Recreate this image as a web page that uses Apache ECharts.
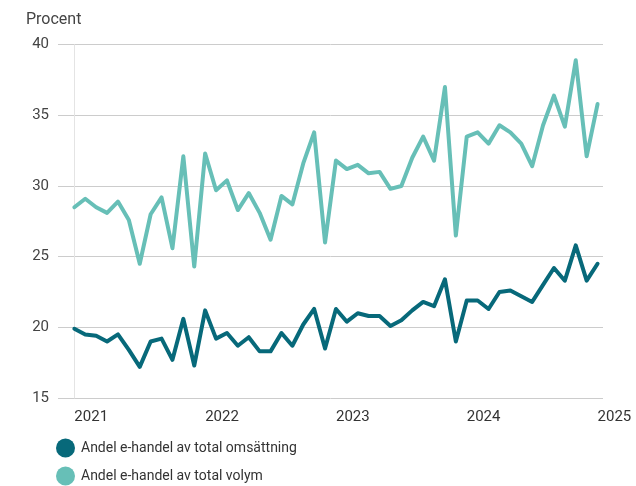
<!DOCTYPE html>
<html>
<head>
<meta charset="utf-8">
<script src="https://cdn.jsdelivr.net/npm/echarts@6/dist/echarts.min.js"></script>
<style>
  html, body { margin: 0; padding: 0; background: #fff; }
  #chart { width: 636px; height: 486px; }
</style>
</head>
<body>
<div id="chart"></div>
<script>
// Monthly shares of e-commerce, Jan 2021 – Jan 2025 (percent)
var months = [
  '2021-01','2021-02','2021-03','2021-04','2021-05','2021-06','2021-07','2021-08','2021-09','2021-10','2021-11','2021-12',
  '2022-01','2022-02','2022-03','2022-04','2022-05','2022-06','2022-07','2022-08','2022-09','2022-10','2022-11','2022-12',
  '2023-01','2023-02','2023-03','2023-04','2023-05','2023-06','2023-07','2023-08','2023-09','2023-10','2023-11','2023-12',
  '2024-01','2024-02','2024-03','2024-04','2024-05','2024-06','2024-07','2024-08','2024-09','2024-10','2024-11','2024-12',
  '2025-01'
];

var omsattning = [
  19.9, 19.5, 19.4, 19.0, 19.5, 18.4, 17.2, 19.0, 19.2, 17.7, 20.6, 17.3,
  21.2, 19.2, 19.6, 18.7, 19.3, 18.3, 18.3, 19.6, 18.7, 20.2, 21.3, 18.5,
  21.3, 20.4, 21.0, 20.8, 20.8, 20.1, 20.5, 21.2, 21.8, 21.5, 23.4, 19.0,
  21.9, 21.9, 21.3, 22.5, 22.6, 22.2, 21.8, 23.0, 24.2, 23.3, 25.8, 23.3,
  24.5
];

var volym = [
  28.5, 29.1, 28.5, 28.1, 28.9, 27.6, 24.5, 28.0, 29.2, 25.6, 32.1, 24.3,
  32.3, 29.7, 30.4, 28.3, 29.5, 28.1, 26.2, 29.3, 28.7, 31.6, 33.8, 26.0,
  31.8, 31.2, 31.5, 30.9, 31.0, 29.8, 30.0, 32.0, 33.5, 31.8, 37.0, 26.5,
  33.5, 33.8, 33.0, 34.3, 33.8, 33.0, 31.4, 34.3, 36.4, 34.2, 38.9, 32.1,
  35.8
];

var yearLabels = ['2021', '2022', '2023', '2024', '2025'];
var yTicks = [15, 20, 25, 30, 35, 40];

var seriesNames = ['Andel e-handel av total omsättning', 'Andel e-handel av total volym'];
var colors = ['#07697a', '#67bfb7'];

function toPoints(arr) {
  return arr.map(function (v, i) { return [i, v]; });
}

// January of each year gets a year label
var yearStarts = [];
months.forEach(function (m, i) { if (m.slice(5) === '01') yearStarts.push(i); });

var font = 'Roboto, "Noto Sans", sans-serif';

// one legend row per series, stacked
function legendRow(name, top) {
  return {
    left: 51,
    top: top,
    icon: 'circle',
    itemWidth: 19,
    itemHeight: 19,
    textStyle: { fontFamily: font, fontSize: 14, color: '#333', padding: [0, 0, 0, 1] },
    data: [name]
  };
}

var chart = echarts.init(document.getElementById('chart'), null, { renderer: 'canvas' });
chart.setOption({
  animation: false,
  backgroundColor: '#ffffff',
  color: colors,
  grid: { left: 58, right: 33, top: 44.7, bottom: 88, containLabel: false },
  graphic: [{
    type: 'text',
    left: 26,
    top: 12,
    style: { text: 'Procent', fontFamily: font, fontSize: 16, fill: '#444' }
  }],
  legend: [legendRow(seriesNames[0], 433.5), legendRow(seriesNames[1], 461.5)],
  xAxis: {
    type: 'value',
    min: -1.5,
    max: 48.5,
    axisLine: { show: false },
    axisTick: { show: false },
    splitLine: { show: false },
    axisLabel: {
      customValues: yearStarts,
      formatter: function (v) { return yearLabels[yearStarts.indexOf(v)] || ''; },
      align: 'left',
      margin: 12,
      fontFamily: font,
      fontSize: 15,
      color: '#333'
    }
  },
  yAxis: {
    type: 'value',
    min: yTicks[0],
    max: yTicks[yTicks.length - 1],
    interval: 5,
    axisLine: { show: true, lineStyle: { color: '#e4e4e4', width: 1 } },
    axisTick: { show: false },
    splitLine: { show: true, lineStyle: { color: '#cccccc', width: 1 } },
    axisLabel: { margin: 9, fontFamily: font, fontSize: 15, color: '#444' }
  },
  series: [
    {
      name: seriesNames[0],
      type: 'line',
      data: toPoints(omsattning),
      showSymbol: false,
      symbol: 'none',
      lineStyle: { width: 4, color: colors[0], join: 'round', cap: 'round' }
    },
    {
      name: seriesNames[1],
      type: 'line',
      data: toPoints(volym),
      showSymbol: false,
      symbol: 'none',
      lineStyle: { width: 4, color: colors[1], join: 'round', cap: 'round' }
    }
  ]
});
</script>
</body>
</html>
